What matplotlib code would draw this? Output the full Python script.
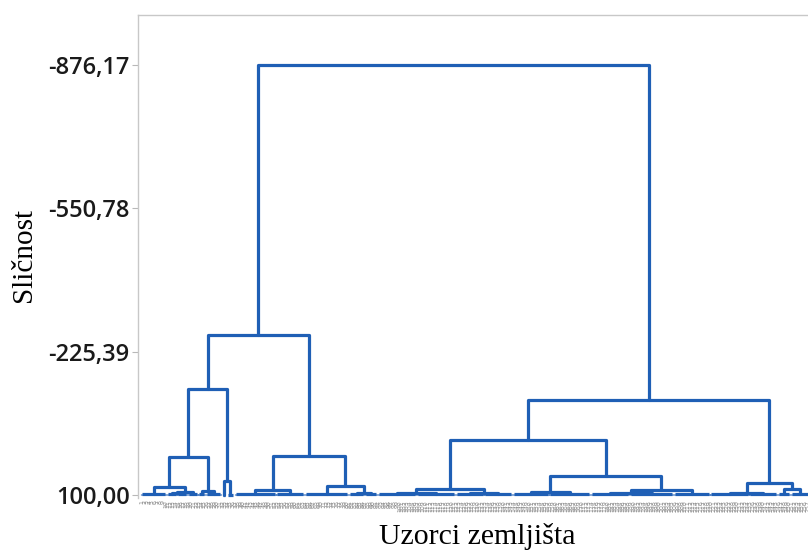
import numpy as np
import matplotlib
matplotlib.use('Agg')
import matplotlib.pyplot as plt

# low-level leaf groups, left to right (number of samples, merge level)
group_sizes = [10, 4, 4, 4, 3, 6, 2, 3, 16, 11, 17, 6, 5,
               15, 15, 11, 11, 14, 16, 15, 17, 14, 15, 11, 5, 7]
group_heights = [97, 98, 98, 97, 98, 97, 99, 99, 97, 97, 97, 98, 97,
                 98, 97, 97, 98, 97, 98, 97, 98, 97, 97, 98, 97, 98]

# merges (ids 0..25 are the groups, new ids follow from 26)
merge_left = [1, 26, 0, 4, 28, 6, 30, 8, 11, 10, 33, 32,
              13, 15, 38, 17, 19, 42, 41, 40, 22, 24, 46, 45, 37]
merge_right = [2, 3, 27, 5, 29, 7, 31, 9, 12, 34, 35, 36,
               14, 16, 39, 18, 20, 21, 43, 44, 23, 25, 47, 48, 49]
merge_height = [96, 94, 82, 91, 14, 68, -141, 89, 95, 80, 12, -263,
                96, 95, 86, 93, 95, 89, 57, -25, 95, 87, 73, -116, -876.17]

ytick_values = [-876.17, -550.78, -225.39, 100.00]
ytick_labels = ['-876,17', '-550,78', '-225,39', '100,00']

n_leaves = sum(group_sizes)
leaf_labels = [str(i + 1) for i in range(n_leaves)]
base = 100.0
blue = '#1f5fb5'
lw = 2.3

fig = plt.figure(figsize=(8.08, 5.53), dpi=100)
ax = fig.add_axes([138/808, 1 - 498/553, 670/808, 483/553])

pos = []
top = []
start = 0
for n, h in zip(group_sizes, group_heights):
    xs = np.arange(start, start + n)
    if n > 1:
        ax.vlines(xs, base, h, color=blue, lw=lw)
        ax.hlines(h, xs[0], xs[-1], color=blue, lw=lw)
        top.append(h)
    else:
        top.append(base)
    pos.append((xs[0] + xs[-1]) / 2)
    start += n

for a, b, h in zip(merge_left, merge_right, merge_height):
    xa, xb = pos[a], pos[b]
    ax.plot([xa, xa, xb, xb], [top[a], h, h, top[b]], color=blue, lw=lw,
            solid_joinstyle='round', solid_capstyle='round')
    pos.append((xa + xb) / 2)
    top.append(h)

ax.set_xlim((138 - 142) / 2.6, (808 - 142) / 2.6)
ax.set_ylim(106.8, -989.7)

ax.set_yticks(ytick_values)
ax.set_yticklabels(ytick_labels, fontsize=17, family='Open Sans',
                   fontweight='semibold', color='#1a1a1a')
ax.tick_params(axis='y', length=4, color='#b8b8b8', pad=2)

ax.set_xticks(np.arange(n_leaves))
ax.set_xticklabels(leaf_labels, rotation=90, fontsize=4.5, color='#8c8c8c')
ax.tick_params(axis='x', length=0, pad=1.5)

for s in ['right', 'bottom']:
    ax.spines[s].set_visible(False)
for s in ['left', 'top']:
    ax.spines[s].set_color('#c8c8c8')
    ax.spines[s].set_linewidth(1.0)

ax.set_ylabel('Sličnost', family='Liberation Serif', fontsize=21)
ax.yaxis.set_label_coords(-0.151, 0.503)
ax.set_xlabel('Uzorci zemljišta', family='Liberation Serif', fontsize=21.5)
ax.xaxis.set_label_coords(0.507, -0.052)

fig.savefig('out.png', dpi=100)
